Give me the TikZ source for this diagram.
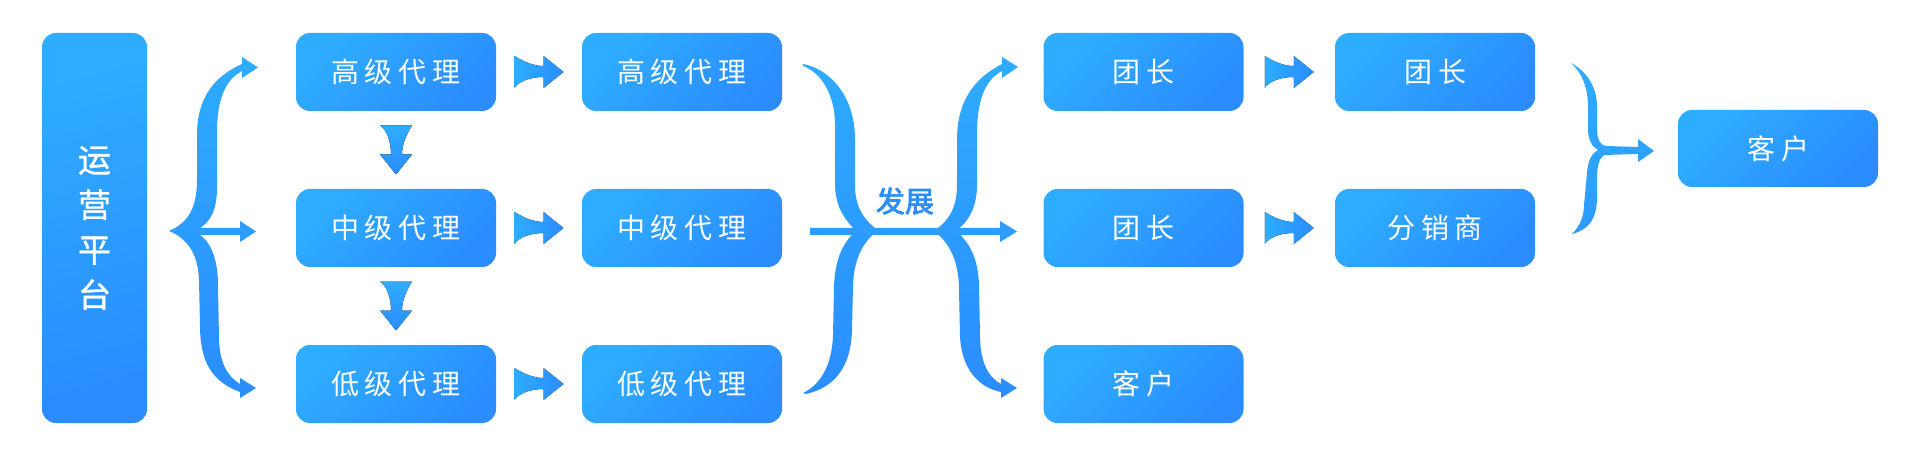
\documentclass[tikz,border=0pt]{standalone}
\usepackage{fontspec}
\newfontfamily\cjk{Noto Sans CJK SC}
\newfontfamily\cjkbold[FakeBold=2.5]{Noto Sans CJK SC}
\newfontfamily\cjkmed[FakeBold=1]{Noto Sans CJK SC}
\usetikzlibrary{calc}
\definecolor{cL}{HTML}{2EADFF}
\definecolor{cD}{HTML}{2A8CFF}
\definecolor{cT}{HTML}{2A8DF8}
\newcommand\lsp{\kern6pt}
\tikzset{
  box/.style={rounded corners=14pt, minimum width=200pt, minimum height=78pt, inner sep=0pt,
    text=white, font=\cjk\fontsize{28}{30}\selectfont, top color=cL, bottom color=cD, shading angle=45},
  vgrad/.style={path picture={\shade[top color=cL, bottom color=cD] (0,40) rectangle (1920,410);}},
  arrR/.pic={\fill[left color=cL, right color=cD] (-24.5,-16) .. controls (-15,-10) and (-5,-6) .. (4.5,-6)
     -- (4.5,-16) -- (24.5,0) -- (4.5,16) -- (4.5,5) .. controls (-8,5) and (-20,9) .. (-24.5,16) -- cycle;},
  arrD/.pic={\fill[top color=cL, bottom color=cD] (16,-24.5) .. controls (10,-15) and (6,-5) .. (6,4.5)
     -- (16,4.5) -- (0,24.5) -- (-16,4.5) -- (-5,4.5) .. controls (-5,-8) and (-9,-20) .. (-16,-24.5) -- cycle;},
}
\begin{document}
\begin{tikzpicture}[x=1pt,y=-1pt]
\useasboundingbox[fill=white] (0,0) rectangle (1920,465);
% platform
\node[box, minimum width=105pt, minimum height=390pt, shading angle=15,
  font=\cjkmed\fontsize{33}{45}\selectfont, align=center] (op) at (94.5,228) {运\\营\\平\\台};
% column 1 and 2
\node[box] (h1) at (396,72) {高\lsp 级\lsp 代\lsp 理};
\node[box] (m1) at (396,228) {中\lsp 级\lsp 代\lsp 理};
\node[box] (l1) at (396,384) {低\lsp 级\lsp 代\lsp 理};
\node[box] (h2) at (682,72) {高\lsp 级\lsp 代\lsp 理};
\node[box] (m2) at (682,228) {中\lsp 级\lsp 代\lsp 理};
\node[box] (l2) at (682,384) {低\lsp 级\lsp 代\lsp 理};
% column 3 and 4
\node[box] (t1) at (1143.5,72) {团\lsp 长};
\node[box] (t2) at (1143.5,228) {团\lsp 长};
\node[box] (k3) at (1143.5,384) {客\lsp 户};
\node[box] (t4) at (1435,72) {团\lsp 长};
\node[box] (f4) at (1435,228) {分\lsp 销\lsp 商};
\node[box, minimum height=77pt] (kf) at (1778,148.5) {客\lsp 户};
% label
\node[text=cT, font=\cjkbold\fontsize{29}{30}\selectfont, inner sep=0pt] (fz) at (905,201) {发展};
% bent arrows
\pic at ($(h1.east)!0.5!(h2.west)$) {arrR};
\pic at ($(m1.east)!0.5!(m2.west)$) {arrR};
\pic at ($(l1.east)!0.5!(l2.west)$) {arrR};
\pic at ($(t1.east)!0.5!(t4.west)$) {arrR};
\pic at ($(t2.east)!0.5!(f4.west)$) {arrR};
\pic at ($(h1.south)!0.5!(m1.north)$) {arrD};
\pic at ($(m1.south)!0.5!(l1.north)$) {arrD};
% left brace
\path[vgrad] (169,231) .. controls (185,224) and (197,212) .. (197,180) -- (197,135)
  .. controls (197,97) and (215,76) .. (242,64) -- (242,57) -- (258,67.5) -- (242,78) -- (242,71)
  .. controls (225,80) and (217,100) .. (217,132) -- (217,188)
  .. controls (217,210) and (210,222) .. (200,228) -- (240,228) -- (240,221) -- (256,231.5)
  -- (240,242) -- (240,235) -- (200,235) .. controls (212,243) and (218,262) .. (218,285)
  -- (219,340) .. controls (220,363) and (227,376) .. (240,384) -- (240,378) -- (256,388)
  -- (240,398) -- (240,392) .. controls (214,382) and (200,365) .. (200,325) -- (199,280)
  .. controls (198,252) and (186,238) .. (169,231) -- cycle;
% middle structure
\path[vgrad] (810,228) -- (1000,228) -- (1000,221) -- (1017,231.5) -- (1000,242) -- (1000,235) -- (810,235) -- cycle;
\path[vgrad] (803,64) .. controls (826,68) and (855,92) .. (855,140) -- (855,188)
  .. controls (856,210) and (866,222) .. (879,231) -- (856,231)
  .. controls (843,218) and (835,205) .. (835,183) -- (835,125)
  .. controls (835,93) and (820,72) .. (803,66) -- cycle;
\path[vgrad] (856,231) -- (878,231) .. controls (864,240) and (854,258) .. (853,285) -- (852,330)
  .. controls (851,370) and (832,388) .. (806,394) -- (803,393)
  .. controls (820,385) and (832,366) .. (833,335) -- (834,290)
  .. controls (834,262) and (842,243) .. (856,231) -- cycle;
\path[vgrad] (934,231) .. controls (947,222) and (957,210) .. (957,185) -- (957,140)
  .. controls (957,100) and (975,78) .. (1002,64) -- (1002,57) -- (1018,67) -- (1002,78) -- (1002,71)
  .. controls (985,80) and (977,100) .. (977,135) -- (977,185)
  .. controls (977,208) and (968,222) .. (956,231) -- cycle;
\path[vgrad] (934,231) -- (956,231) .. controls (970,243) and (978,258) .. (979,285) -- (980,335)
  .. controls (980,365) and (990,378) .. (1001,384) -- (1001,378) -- (1017,388) -- (1001,398) -- (1001,392)
  .. controls (980,388) and (961,370) .. (960,335) -- (959,290)
  .. controls (959,262) and (950,243) .. (934,231) -- cycle;
% right brace
\path[vgrad] (1571,63) .. controls (1584,70) and (1597,84) .. (1597,107) -- (1597,128)
  .. controls (1597,140) and (1600,145) .. (1606,146) -- (1638,147) -- (1638,139) -- (1654,151)
  -- (1638,162) -- (1638,154) -- (1604,155) .. controls (1599,158) and (1597,166) .. (1597,180)
  -- (1597,200) .. controls (1596,220) and (1588,230) .. (1572,234)
  .. controls (1580,226) and (1584,216) .. (1584,205) -- (1587,173)
  .. controls (1588,160) and (1592,153) .. (1598,150) .. controls (1592,147) and (1588,140) .. (1588,128)
  -- (1588,107) .. controls (1588,86) and (1581,72) .. (1571,63) -- cycle;
\end{tikzpicture}
\end{document}
